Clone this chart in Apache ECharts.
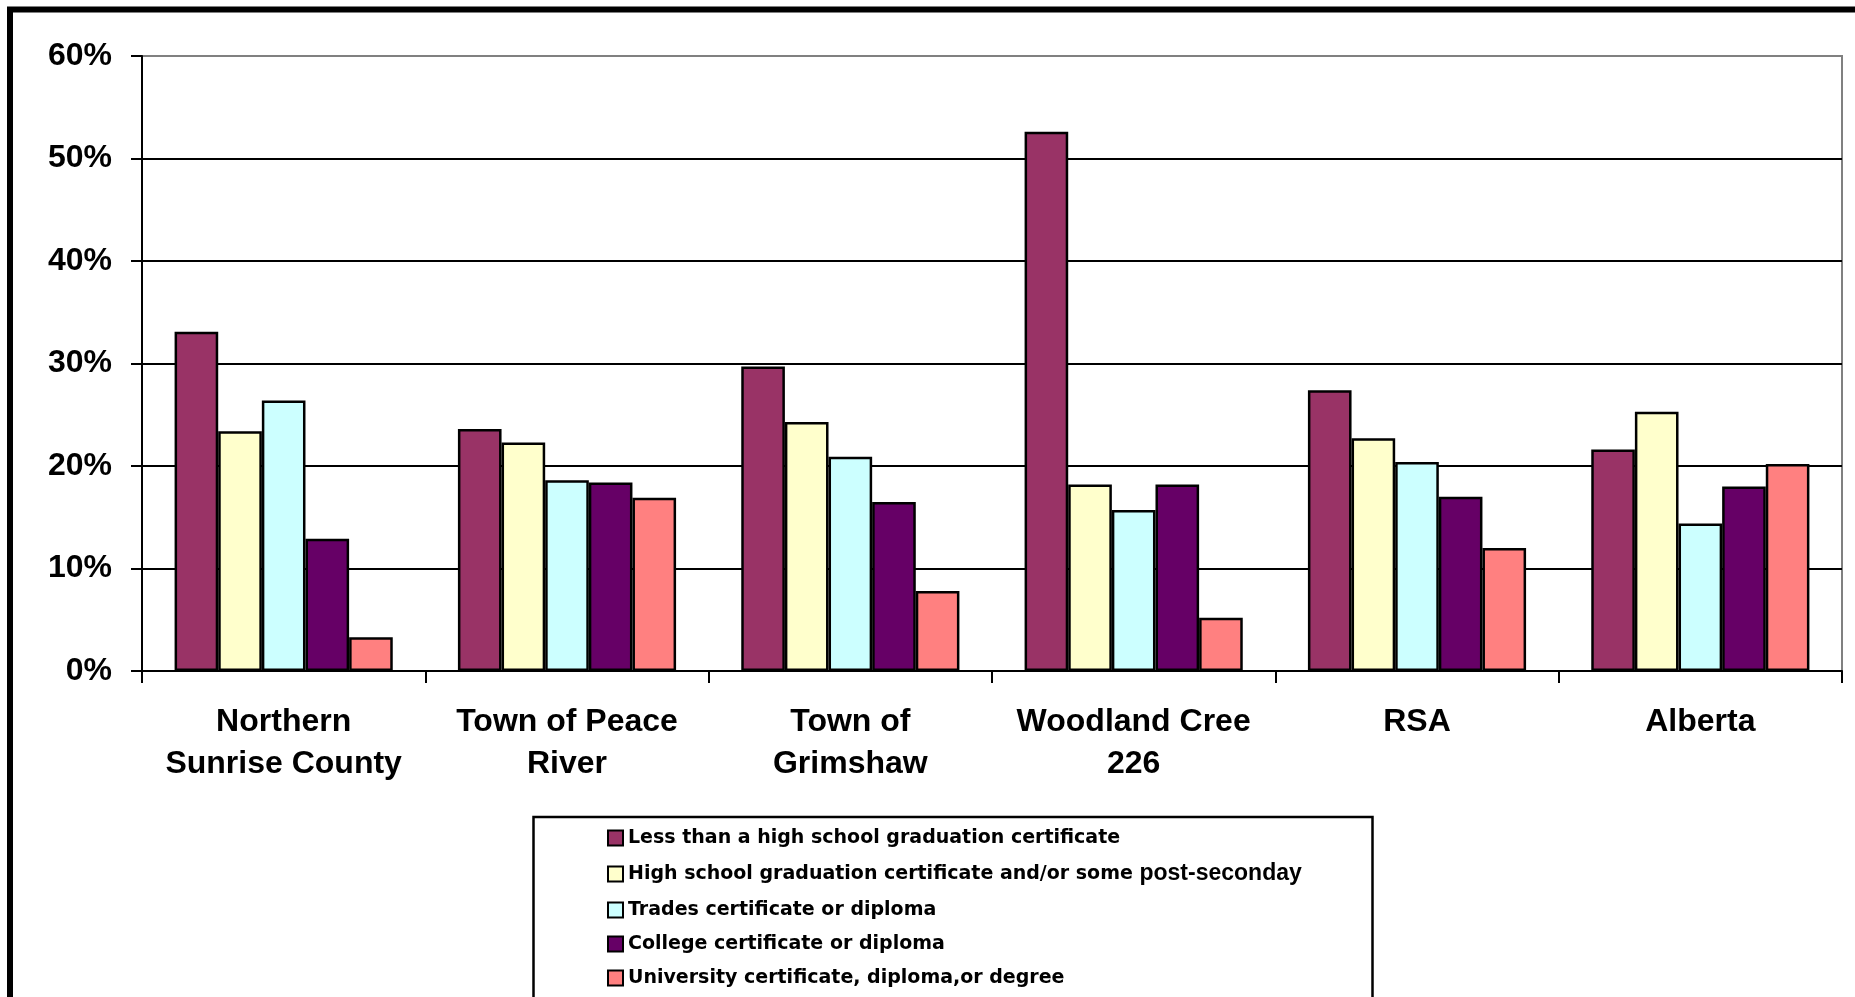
<!DOCTYPE html>
<html>
<head>
<meta charset="utf-8">
<style>
  html, body { margin: 0; padding: 0; background: #fff; }
  #chart { width: 1855px; height: 997px; }
</style>
<script src="https://cdn.jsdelivr.net/npm/echarts@6/dist/echarts.min.js"></script>
</head>
<body>
<div id="chart"></div>
<script>
// Highest level of schooling, share of population (%)
const categories = [
  'Northern\nSunrise County',
  'Town of Peace\nRiver',
  'Town of\nGrimshaw',
  'Woodland Cree\n226',
  'RSA',
  'Alberta'
];
const seriesNames = [
  'Less than a high school graduation certificate',
  'High school graduation certificate and/or some post-seconday',
  'Trades certificate or diploma',
  'College certificate or diploma',
  'University certificate, diploma,or degree'
];
const lessThanHighSchool = [33.1, 23.6, 29.7, 52.6, 27.4, 21.6];
const highSchool         = [23.4, 22.3, 24.3, 18.2, 22.7, 25.3];
const trades             = [26.4, 18.6, 20.9, 15.7, 20.4, 14.4];
const college            = [12.9, 18.4, 16.5, 18.2, 17.0, 18.0];
const university         = [3.3, 16.9, 7.8, 5.2, 12.0, 20.2];
const yTicks = { min: 0, max: 60, interval: 10 };

const seriesValues = [lessThanHighSchool, highSchool, trades, college, university];
const colors = ['#993366', '#FFFFCC', '#CCFFFF', '#660066', '#FF8080'];

const chart = echarts.init(document.getElementById('chart'), null, { renderer: 'canvas' });

const series = seriesValues.map((vals, i) => ({
  name: seriesNames[i],
  type: 'bar',
  data: vals,
  barGap: '0%',
  barCategoryGap: '23%',
  itemStyle: { color: colors[i], borderColor: '#000', borderWidth: 2.5 },
  emphasis: { disabled: true }
}));

chart.setOption({
  animation: false,
  backgroundColor: '#fff',
  textStyle: { fontFamily: 'Liberation Sans, Arial, sans-serif' },
  grid: {
    left: 142, right: 13, top: 56, bottom: 326,
    show: true, borderColor: '#808080', borderWidth: 2, backgroundColor: 'transparent'
  },
  xAxis: {
    type: 'category',
    data: categories,
    axisLine: { lineStyle: { color: '#000', width: 2 } },
    axisTick: { show: true, length: 12, lineStyle: { color: '#000', width: 2 } },
    axisLabel: {
      color: '#000', fontSize: 32, fontWeight: 'bold', lineHeight: 42, margin: 30,
      fontFamily: 'Liberation Sans, Arial, sans-serif', interval: 0
    }
  },
  yAxis: {
    type: 'value',
    min: yTicks.min, max: yTicks.max, interval: yTicks.interval,
    axisLine: { show: true, lineStyle: { color: '#000', width: 2 } },
    axisTick: { show: true, length: 11, lineStyle: { color: '#000', width: 2 } },
    axisLabel: {
      color: '#000', fontSize: 32, fontWeight: 'bold', margin: 30,
      fontFamily: 'Liberation Sans, Arial, sans-serif',
      formatter: '{value}%'
    },
    splitLine: { show: true, showMaxLine: false, lineStyle: { color: '#000', width: 2 } }
  },
  legend: {
    orient: 'vertical',
    left: 607,
    top: 828.5,
    width: 760,
    height: 220,
    padding: 0,
    itemWidth: 15,
    itemHeight: 15,
    itemGap: 15,
    icon: 'rect',
    selectedMode: false,
    itemStyle: { borderColor: '#000', borderWidth: 2 },
    data: seriesNames,
    formatter: function (name) {
      if (name === seriesNames[1]) {
        return '{a|High school graduation certificate and/or some }{b|post-seconday}';
      }
      return '{a|' + name + '}';
    },
    textStyle: {
      color: '#000',
      lineHeight: 15,
      rich: {
        a: { fontFamily: 'DejaVu Sans', fontWeight: 'bold', fontSize: 19, lineHeight: 15, color: '#000' },
        b: { fontFamily: 'Liberation Sans', fontWeight: 'bold', fontSize: 23, lineHeight: 15, color: '#000' }
      }
    }
  },
  graphic: [
    {
      type: 'rect',
      z: -1,
      shape: { x: 10, y: 9.5, width: 1900, height: 1100 },
      style: { fill: 'none', stroke: '#000', lineWidth: 6 },
      silent: true
    },
    {
      type: 'rect',
      z: -1,
      shape: { x: 533.5, y: 817, width: 839, height: 220 },
      style: { fill: '#fff', stroke: '#000', lineWidth: 2.5 },
      silent: true
    }
  ],
  series: series
});
</script>
</body>
</html>
